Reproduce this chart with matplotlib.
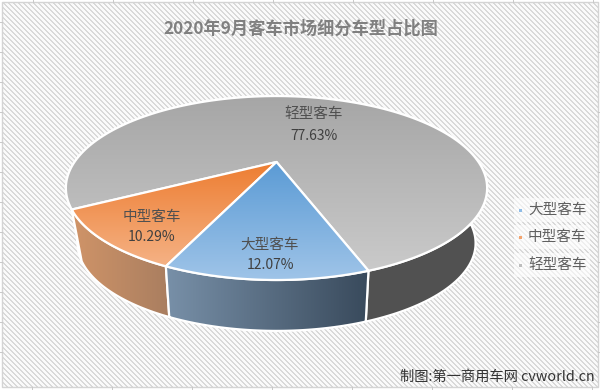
import numpy as np
import matplotlib
matplotlib.use("Agg")
import matplotlib.pyplot as plt
from matplotlib.patches import Polygon, Rectangle

plt.rcParams['font.family'] = ['Noto Sans CJK SC', 'DejaVu Sans']

# datos del grafico
categorias = ["大型客车", "中型客车", "轻型客车"]
valores = [12.07, 10.29, 77.63]
etiquetas = ["12.07%", "10.29%", "77.63%"]
titulo = "2020年9月客车市场细分车型占比图"
fuente = "制图:第一商用车网 cvworld.cn"

# colores: arriba, abajo de la cara; izquierda, derecha del lateral
cara = [("#5b9bd5", "#9fc4e8"), ("#ed7d31", "#f5b285"), ("#a6a6a6", "#cacaca")]
lateral = [("#7890a8", "#394a5c"), ("#d09468", "#a97e60"), ("#515151", "#515151")]
color_leyenda = ["#8fbce6", "#f4a46e", "#bdbdbd"]

# geometria del pastel en perspectiva
cx, cy = 276.5, 162
a, b, k = 202, 84.6, 0.283
inicio = 160.5
escala_base, caida, k_base = 0.937, 54, 0.31

W, H = 600, 390
fig = plt.figure(figsize=(W / 100, H / 100), dpi=100)
ax = fig.add_axes([0, 0, 1, 1])
ax.set_xlim(0, W)
ax.set_ylim(H, 0)
ax.axis("off")

# fondo rayado
yy, xx = np.mgrid[0:H, 0:W]
rayas = np.where((xx - yy) % 5 < 2, 0.85, 0.98)
fondo = ax.imshow(rayas, cmap="gray", vmin=0, vmax=1, extent=(0, W, H, 0),
                  interpolation="nearest", aspect="auto", zorder=0)
fondo.set_clip_path(Rectangle((1.5, 1.5), 596, 385.5, transform=ax.transData))
ax.add_patch(Rectangle((1.5, 1.5), 596, 385.5, fill=False, ec="#d4d4d4", lw=1, zorder=1))

# marcas de las celdas alrededor
for x in range(33, W, 80):
    ax.plot([x, x], [0, 1.5], color="#c8c8c8", lw=0.7, zorder=1)
    ax.plot([x - 1, x - 1], [387, H], color="#c8c8c8", lw=0.7, zorder=1)
for y in range(22, H - 10, 30):
    ax.plot([0, 1.5], [y, y], color="#c8c8c8", lw=0.7, zorder=1)
    ax.plot([597.5, W], [y, y], color="#c8c8c8", lw=0.7, zorder=1)


def proyecta(theta, base=False):
    t = np.radians(theta)
    u, v = np.sin(t), -np.cos(t)
    w = 1 - (k_base if base else k) * v
    s = escala_base if base else 1.0
    d = caida if base else 0.0
    return cx + s * a * u / w, cy + d + s * b * v / w


def relleno(puntos, colores, vertical, z):
    # degradado recortado al poligono, con borde blanco
    c1 = np.array(matplotlib.colors.to_rgb(colores[0]))
    c2 = np.array(matplotlib.colors.to_rgb(colores[1]))
    n = np.linspace(0, 1, 128)[:, None]
    grad = c1 * (1 - n) + c2 * n
    grad = grad[:, None, :] if vertical else grad[None, :, :]
    x0, x1 = puntos[:, 0].min(), puntos[:, 0].max()
    y0, y1 = puntos[:, 1].min(), puntos[:, 1].max()
    im = ax.imshow(grad, extent=(x0, x1, y1, y0), aspect="auto", zorder=z)
    pol = Polygon(puntos, closed=True, fc="none", ec="white", lw=1.6, zorder=z + 0.1,
                  joinstyle="round")
    ax.add_patch(pol)
    im.set_clip_path(pol)


ax.set_xlim(0, W)
ax.set_ylim(H, 0)
ang = inicio
tramos = []
for val in valores:
    fin = ang + val / sum(valores) * 360
    tramos.append((ang, fin))
    ang = fin

# laterales de atras hacia delante
for i in [2, 1, 0]:
    th = np.linspace(tramos[i][0], tramos[i][1], 200)
    xs, ys = proyecta(th)
    xb, yb = proyecta(th, base=True)
    pts = np.column_stack([np.r_[xs, xb[::-1]], np.r_[ys, yb[::-1]]])
    relleno(pts, lateral[i], False, 2 + (2 - i) * 0.2)

# caras superiores
for i in [2, 1, 0]:
    th = np.linspace(tramos[i][0], tramos[i][1], 200)
    xs, ys = proyecta(th)
    pts = np.column_stack([np.r_[cx, xs], np.r_[cy, ys]])
    relleno(pts, cara[i], True, 3 + (2 - i) * 0.2)

# etiquetas de datos
pos_etq = [(270, 245, 265), (152, 217, 237), (314, 114, 136)]
for i, (x, y1, y2) in enumerate(pos_etq):
    ax.text(x, y1, categorias[i], fontsize=10.5, color="#505050", ha="center", va="center", zorder=6)
    ax.text(x, y2, etiquetas[i], fontsize=10, color="#404040", ha="center", va="center", zorder=6)

ax.text(301, 29, titulo, fontsize=12.4, fontweight="bold", color="#808080",
        ha="center", va="center", zorder=6)

# leyenda
for i, y in enumerate([210, 237, 265]):
    ax.add_patch(Rectangle((514, y - 12), 76, 24, fc="white", ec="none", alpha=0.6, zorder=4))
    ax.add_patch(Rectangle((519, y - 1), 2.5, 2.5, fc=color_leyenda[i], ec="none", zorder=5))
    ax.text(528, y, categorias[i], fontsize=10.5, color="#606060", ha="left", va="center", zorder=6)

ax.text(595, 377, fuente, fontsize=10.3, color="#333333", ha="right", va="center", zorder=6)

fig.savefig("out.png", dpi=100)
